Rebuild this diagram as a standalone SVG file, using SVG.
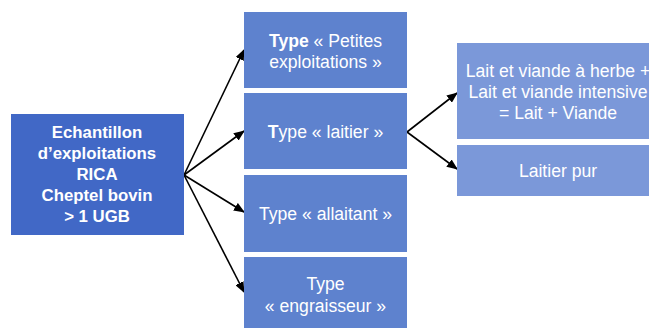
<svg xmlns="http://www.w3.org/2000/svg" width="649" height="329" viewBox="0 0 649 329">
<style>
text{font-family:"Liberation Sans",Arial,sans-serif;fill:#fff;text-anchor:middle}
.l{font-size:16.8px;font-weight:bold}
.m{font-size:17.6px}
.b0{fill:#4168c6}
.b1{fill:#5e82ce}
.b2{fill:#7b98d9}
.c{stroke:#000;stroke-width:1.6;fill:none;marker-end:url(#ah)}
</style>
<defs>
<marker id="ah" markerWidth="11" markerHeight="9" refX="10" refY="4.5" orient="auto" markerUnits="userSpaceOnUse">
<path d="M0,0 L11,4.5 L0,9 Z" fill="#000"/>
</marker>
</defs>
<rect width="649" height="329" fill="#fff"/>
<g id="connectors">
<line class="c" x1="184" y1="175" x2="244" y2="50"/>
<line class="c" x1="184" y1="175" x2="244" y2="131"/>
<line class="c" x1="184" y1="175" x2="244" y2="212"/>
<line class="c" x1="184" y1="175" x2="244" y2="292"/>
<line class="c" x1="407" y1="132" x2="457" y2="93"/>
<line class="c" x1="407" y1="132" x2="457" y2="169"/>
</g>
<g id="echantillon">
<rect class="b0" x="11" y="114" width="173" height="121"/>
<text class="l" x="97" y="138">Echantillon</text>
<text class="l" x="97" y="159">d’exploitations</text>
<text class="l" x="97" y="180">RICA</text>
<text class="l" x="97" y="201">Cheptel bovin</text>
<text class="l" x="97" y="222">&gt; 1 UGB</text>
</g>
<g id="petites">
<rect class="b1" x="244" y="12" width="163" height="76"/>
<text class="m" x="325.5" y="47"><tspan font-weight="bold">Type</tspan> « Petites</text>
<text class="m" x="325.5" y="68">exploitations »</text>
</g>
<g id="laitier">
<rect class="b1" x="244" y="93" width="163" height="76"/>
<text class="m" x="325.5" y="138"><tspan font-weight="bold">T</tspan>ype « laitier »</text>
</g>
<g id="allaitant">
<rect class="b1" x="244" y="175" width="163" height="77"/>
<text class="m" x="325.5" y="220">Type « allaitant »</text>
</g>
<g id="engraisseur">
<rect class="b1" x="244" y="257" width="163" height="71"/>
<text class="m" x="325.5" y="290">Type</text>
<text class="m" x="325.5" y="312">« engraisseur »</text>
</g>
<g id="laitviande">
<rect class="b2" x="457" y="43" width="202" height="96"/>
<text class="m" x="558" y="77">Lait et viande à herbe +</text>
<text class="m" x="558" y="98">Lait et viande intensive</text>
<text class="m" x="558" y="119">= Lait + Viande</text>
</g>
<g id="laitierpur">
<rect class="b2" x="457" y="145" width="202" height="51"/>
<text class="m" x="558" y="177">Laitier pur</text>
</g>
</svg>
